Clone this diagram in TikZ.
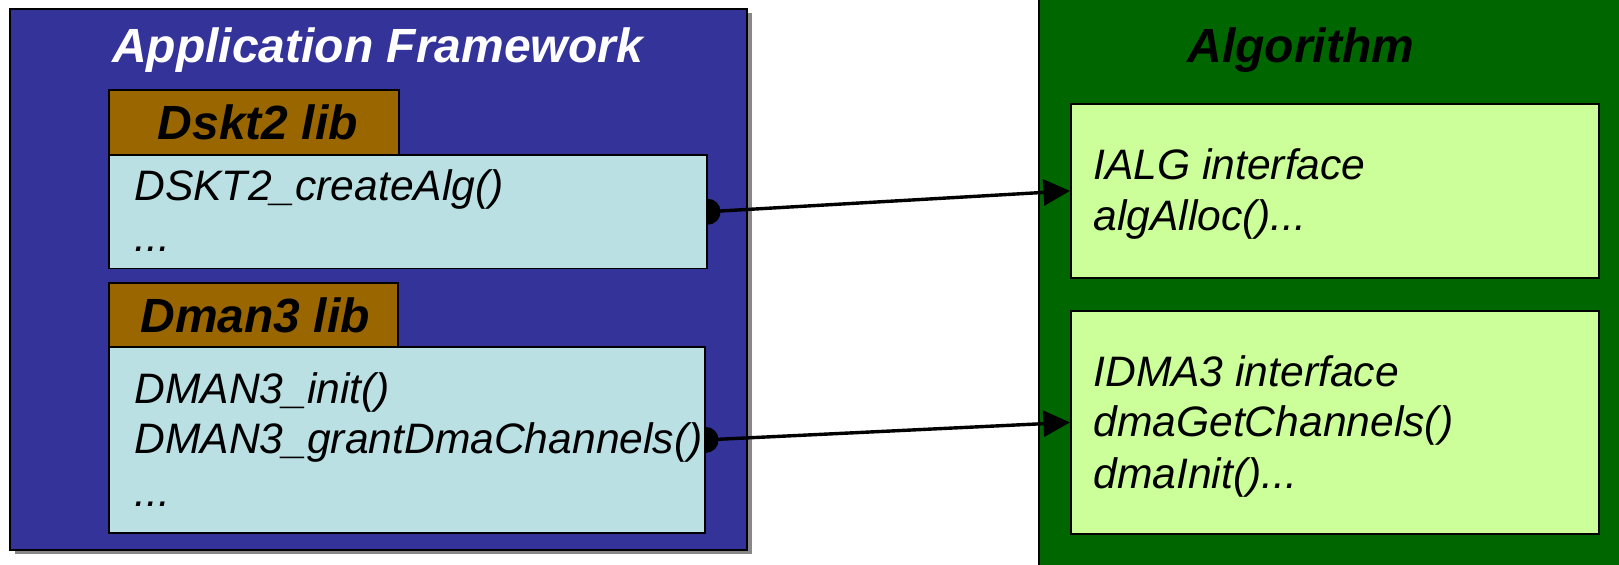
\documentclass[tikz,border=0pt]{standalone}
\usepackage{fontspec}
\setmainfont{Liberation Sans}
\usetikzlibrary{arrows.meta}

\definecolor{frameblue}{HTML}{333399}
\definecolor{framegreen}{HTML}{006600}
\definecolor{tabbrown}{HTML}{996600}
\definecolor{libcyan}{HTML}{BAE0E4}
\definecolor{ifacegreen}{HTML}{CCFF99}
\definecolor{shadowgray}{HTML}{888888}

\begin{document}
\begin{tikzpicture}[x=0.5pt,y=-0.5pt,
  frame/.style={draw=black, line width=1pt, inner sep=0pt, anchor=north west},
  tab/.style={draw=black, line width=1pt, fill=tabbrown, inner sep=0pt,
    anchor=north west, font=\fontsize{24}{28}\selectfont\bfseries\itshape},
  libbox/.style={draw=black, line width=0.9pt, fill=libcyan, inner sep=0pt, anchor=north west},
  ifacebox/.style={draw=black, line width=0.9pt, fill=ifacegreen, inner sep=0pt, anchor=north west},
  code/.style={anchor=base west, inner sep=0pt, font=\fontsize{21.3}{25}\selectfont\itshape},
  heading/.style={anchor=base, inner sep=0pt, font=\fontsize{24}{28}\selectfont\bfseries\itshape},
  call/.style={line width=1.7pt, -{Triangle[length=13.3pt,width=13pt]}},
]
\useasboundingbox (0,0) rectangle (1619,565);
\clip (0,0) rectangle (1619,565);

% application side: shadowed frame
\fill[shadowgray] (14.5,13.5) rectangle (751.5,554.5);
\node[frame, fill=frameblue, minimum width=368.5pt, minimum height=270.5pt] (app) at (9,8) {};
\node[heading, text=white] (apptitle) at (377.6,63) {Application Framework};

% DSKT2 library
\node[tab, minimum width=144.75pt, minimum height=32.25pt] (dsktab) at (108,89.5) {\hspace*{4pt}Dskt2 lib};
\node[libbox, minimum width=298.9pt, minimum height=56.85pt] (dsk) at (108,154) {};
\node[code] (dska) at (134,200.5) {DSKT2\_createAlg()};
\node[code] (dskb) at (134,251.7) {...};

% DMAN3 library
\node[tab, minimum width=144.25pt, minimum height=32pt] (dmantab) at (108,282) {\hspace*{2pt}Dman3 lib};
\node[libbox, minimum width=297.9pt, minimum height=93pt] (dman) at (108,346) {};
\node[code] (dmana) at (134,403.3) {DMAN3\_init()};
\node[code] (dmanb) at (134,453.3) {DMAN3\_grantDmaChannels()};
\node[code] (dmanc) at (134,507) {...};

% algorithm side
\node[frame, fill=framegreen, minimum width=306pt, minimum height=310pt] (alg) at (1038,-20) {};
\node[heading, text=black] (algtitle) at (1300.7,63) {Algorithm};

\node[ifacebox, minimum width=264pt, minimum height=87pt] (ialg) at (1070,103) {};
\node[code] (ialga) at (1093,180) {IALG interface};
\node[code] (ialgb) at (1093,230.5) {algAlloc()...};

\node[ifacebox, minimum width=264pt, minimum height=111.5pt] (idma) at (1070,310) {};
\node[code] (idmaa) at (1093,386.7) {IDMA3 interface};
\node[code] (idmab) at (1093,436.5) {dmaGetChannels()};
\node[code] (idmac) at (1093,488.5) {dmaInit()...};

% half-round sockets on the library boxes
\begin{scope}
  \clip (dsk.north east) rectangle ([xshift=20pt]dsk.south east);
  \fill (dsk.east) circle[radius=13];
\end{scope}
\begin{scope}
  \clip (dman.north east) rectangle ([xshift=20pt]dman.south east);
  \fill (dman.east) circle[radius=13];
\end{scope}

% calls into the algorithm interfaces
\draw[call] (dsk.east) -- (ialg.west);
\draw[call] (dman.east) -- (idma.west);
\end{tikzpicture}
\end{document}
